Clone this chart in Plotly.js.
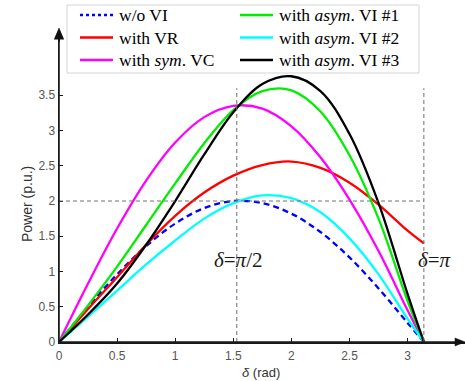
<!DOCTYPE html>
<html>
<head>
<meta charset="utf-8">
<script src="https://cdn.plot.ly/plotly-3.0.1.min.js"></script>
<style>html,body{margin:0;padding:0;background:#fff;}#chart{width:465px;height:381px;}</style>
</head>
<body>
<div id="chart"></div>
<script>
// Load angle (rad)
const delta = [0, 0.25, 0.5, 0.75, 1.0, 1.25, 1.5, 1.75, 2.0, 2.25, 2.5, 2.75, 3.0, 3.14];
// Power (p.u.) for each case
const pNoVI  = [0, 0.50, 0.96, 1.36, 1.68, 1.90, 2.00, 1.97, 1.82, 1.56, 1.20, 0.76, 0.27, 0];
const pVR    = [0, 0.47, 0.92, 1.38, 1.79, 2.12, 2.36, 2.51, 2.56, 2.47, 2.26, 1.95, 1.58, 1.40];
const pSymVC = [0, 0.83, 1.61, 2.29, 2.83, 3.19, 3.35, 3.31, 3.06, 2.62, 2.02, 1.29, 0.45, 0];
const pAsym1 = [0, 0.52, 1.07, 1.66, 2.25, 2.82, 3.29, 3.56, 3.57, 3.27, 2.65, 1.75, 0.58, 0];
const pAsym2 = [0, 0.36, 0.73, 1.10, 1.44, 1.75, 1.97, 2.08, 2.04, 1.84, 1.47, 0.96, 0.33, 0];
const pAsym3 = [0, 0.39, 0.83, 1.38, 2.00, 2.66, 3.26, 3.66, 3.77, 3.56, 2.95, 1.97, 0.68, 0];

const seriesNames = ['w/o VI', 'with VR', 'with <i>sym</i>. VC',
                     'with <i>asym</i>. VI #1', 'with <i>asym</i>. VI #2', 'with <i>asym</i>. VI #3'];
// legend placement: column and row of each series
const legendCol = [0, 0, 0, 1, 1, 1];
const legendRow = [0, 1, 2, 0, 1, 2];

// Axis ticks
const xTicks = [0, 0.5, 1, 1.5, 2, 2.5, 3];
const xTickText = ['0', '0.5', '1', '1.5', '2', '2.5', '3'];
const yTicks = [0, 0.5, 1, 1.5, 2, 2.5, 3, 3.5];
const yTickText = ['0', '0.5', '1', '1.5', '2', '2.5', '3', '3.5'];

// Guide lines and their labels
const guideX = [1.53, 3.14];
const guideXTop = 3.6;
const guideY = 2;
const guideLabels = ['<i>δ</i>=<i>π</i>/2', '<i>δ</i>=<i>π</i>'];
const guideLabelX = [1.54, 3.23];
const guideLabelY = 1.16;

const values = [pNoVI, pVR, pSymVC, pAsym1, pAsym2, pAsym3];
const colors = ['#0000ff', '#ff0000', '#ff00ff', '#00ee00', '#00ffff', '#000000'];
const dashes = ['6px,4px', 'solid', 'solid', 'solid', 'solid', 'solid'];
const legendDashes = ['3px,3px', 'solid', 'solid', 'solid', 'solid', 'solid'];

// plot-area geometry helpers (pixels -> paper)
const L = 59, T = 30, W = 406, H = 312;
const px = p => (p - L) / W;
const py = p => (T + H - p) / H;

const traces = values.map((v, i) => ({
  x: delta, y: v, type: 'scatter', mode: 'lines', name: seriesNames[i], showlegend: false,
  line: {color: colors[i], width: 2.3, dash: dashes[i], shape: 'spline', smoothing: 1},
  hoverinfo: 'skip'
}));

const shapes = [];
// legend frame
shapes.push({type: 'rect', xref: 'paper', yref: 'paper',
  x0: px(67), x1: px(419), y0: py(73), y1: py(5),
  line: {color: '#d4d4d4', width: 1}, fillcolor: '#ffffff', layer: 'below'});
guideX.forEach(g => shapes.push({type: 'line', xref: 'x', yref: 'y', x0: g, x1: g, y0: 0, y1: guideXTop,
  line: {color: '#707070', width: 1, dash: '4px,3px'}}));
shapes.push({type: 'line', xref: 'x', yref: 'y', x0: 0, x1: guideX[1], y0: guideY, y1: guideY,
  line: {color: '#707070', width: 1, dash: '4px,3px'}});
// explicit axis lines and arrowheads
shapes.push({type: 'line', xref: 'paper', yref: 'paper', x0: 0, x1: 0, y0: 0, y1: py(36),
  line: {color: '#1a1a1a', width: 1.6}});
shapes.push({type: 'line', xref: 'paper', yref: 'paper', x0: 0, x1: px(457), y0: 0, y1: 0,
  line: {color: '#1a1a1a', width: 1.6}});
shapes.push({type: 'path', xref: 'paper', yref: 'paper',
  path: `M${px(465)},${py(342)} L${px(455)},${py(338)} L${px(455)},${py(346)} Z`,
  fillcolor: '#111', line: {color: '#111', width: 0.5}});
shapes.push({type: 'path', xref: 'paper', yref: 'paper',
  path: `M${px(59)},${py(28)} L${px(55)},${py(38)} L${px(63)},${py(38)} Z`,
  fillcolor: '#111', line: {color: '#111', width: 0.5}});

const annotations = guideLabels.map((t, i) => ({
  x: guideLabelX[i], y: guideLabelY, xref: 'x', yref: 'y', text: t, showarrow: false,
  font: {family: 'Liberation Serif', size: 21, color: '#1a1a1a'}
}));
annotations.push({xref: 'paper', yref: 'paper', x: px(17), y: py(204),
  text: 'Power (p.u.)', textangle: -90, showarrow: false,
  font: {family: 'Liberation Sans', size: 14, color: '#333'}});
annotations.push({xref: 'paper', yref: 'paper', x: px(261), y: py(372), yanchor: 'middle',
  text: '<i>δ</i> (rad)', showarrow: false,
  font: {family: 'Liberation Sans', size: 13, color: '#333'}});
// y-axis arrow (annotation arrow as well)
annotations.push({xref: 'paper', yref: 'paper', x: 0, y: py(29), text: '', showarrow: true,
  ax: 0, ay: 14, arrowhead: 2, arrowsize: 1.3, arrowwidth: 1.6, arrowcolor: '#111', standoff: 0});

// legend entries
const colX = [80, 240], rowY = [15, 37.5, 60], sampleLen = 33, textGap = 4;
seriesNames.forEach((n, i) => {
  const x0 = colX[legendCol[i]], y0 = rowY[legendRow[i]];
  shapes.push({type: 'line', xref: 'paper', yref: 'paper', x0: px(x0), x1: px(x0 + sampleLen),
    y0: py(y0), y1: py(y0), line: {color: colors[i], width: 2.4, dash: legendDashes[i]}});
  annotations.push({xref: 'paper', yref: 'paper', x: px(x0 + sampleLen + textGap), y: py(y0),
    xanchor: 'left', yanchor: 'middle', text: n, showarrow: false,
    font: {family: 'Liberation Serif', size: 17.5, color: '#000'}});
});

const axisCommon = {
  showline: true, linecolor: '#1a1a1a', linewidth: 1.5, ticks: 'inside', ticklen: 4,
  tickcolor: '#1a1a1a', tickwidth: 1, showgrid: false, zeroline: false,
  tickfont: {family: 'Liberation Sans', size: 12, color: '#555'}, fixedrange: true
};

const layout = {
  width: 465, height: 381,
  margin: {l: L, r: 465 - L - W, t: T, b: 381 - T - H, pad: 0},
  paper_bgcolor: '#fff', plot_bgcolor: '#fff',
  xaxis: Object.assign({}, axisCommon, {range: [0, 3.494], tickvals: xTicks, ticktext: xTickText,
    ticklabelstandoff: 2}),
  yaxis: Object.assign({}, axisCommon, {range: [0, 4.426], tickvals: yTicks, ticktext: yTickText}),
  showlegend: false,
  shapes: shapes,
  annotations: annotations
};

Plotly.newPlot('chart', traces, layout, {displayModeBar: false, staticPlot: true});
</script>
</body>
</html>
